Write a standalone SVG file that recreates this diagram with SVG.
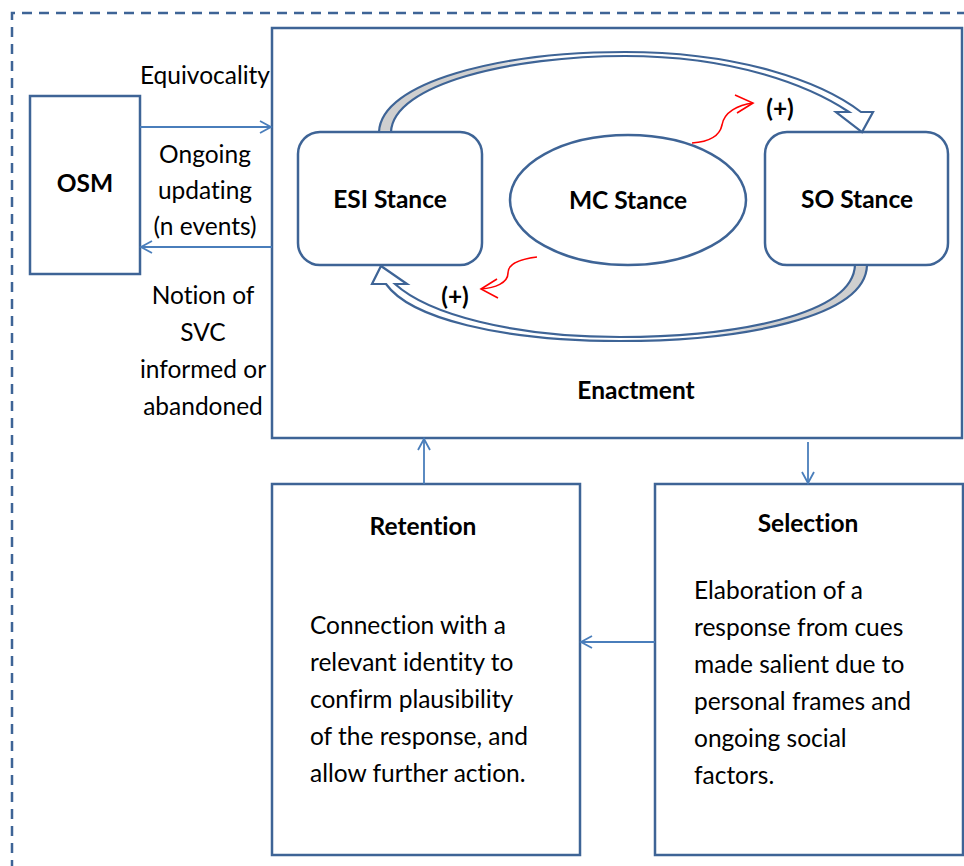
<svg xmlns="http://www.w3.org/2000/svg" width="964" height="866" viewBox="0 0 964 866">
  <style>
    .box { fill: #ffffff; stroke: #3e6496; stroke-width: 2.5; }
    .frame { fill: none; stroke: #3e6496; stroke-width: 2.5; stroke-dasharray: 10 7; }
    .conn { fill: none; stroke: #4a7ebb; stroke-width: 1.8; }
    .band { stroke: #3e6496; stroke-width: 2.2; stroke-linejoin: miter; }
    .red { fill: none; stroke: #ff0000; stroke-width: 1.6; }
    .t { font-family: Lato, "Open Sans", sans-serif; font-size: 24.5px; fill: #000000; font-variant-ligatures: none; }
    .b { font-family: Lato, "Open Sans", sans-serif; font-size: 24.5px; font-weight: bold; fill: #000000; font-variant-ligatures: none; }
    .mid { text-anchor: middle; }
  </style>
  <defs>
    <marker id="open" markerWidth="14" markerHeight="14" refX="12" refY="7" orient="auto" markerUnits="userSpaceOnUse">
      <path d="M1,1 L12,7 L1,13" fill="none" stroke="#4a7ebb" stroke-width="1.8"/>
    </marker>
    <linearGradient id="shadeL" x1="0" y1="0" x2="1" y2="0">
      <stop offset="0" stop-color="#cfcfcf"/>
      <stop offset="0.22" stop-color="#cfcfcf"/>
      <stop offset="0.34" stop-color="#ffffff"/>
      <stop offset="1" stop-color="#ffffff"/>
    </linearGradient>
    <linearGradient id="shadeR" x1="1" y1="0" x2="0" y2="0">
      <stop offset="0" stop-color="#cfcfcf"/>
      <stop offset="0.22" stop-color="#cfcfcf"/>
      <stop offset="0.34" stop-color="#ffffff"/>
      <stop offset="1" stop-color="#ffffff"/>
    </linearGradient>
  </defs>

  <rect width="964" height="866" fill="#ffffff"/>

  <!-- outer dashed frame -->
  <path class="frame" d="M12,870 L12,13 L970,13"/>

  <!-- enactment container -->
  <g id="enactment">
    <rect class="box" x="272" y="28" width="690" height="410"/>
    <text class="b mid" x="636" y="399">Enactment</text>
  </g>

  <g id="osm">
    <rect class="box" x="30" y="96" width="110" height="178"/>
    <text class="b mid" x="85" y="192">OSM</text>
  </g>

  <g id="esi-stance">
    <rect class="box" x="298" y="132" width="184" height="133" rx="22"/>
    <text class="b mid" x="390" y="208">ESI Stance</text>
  </g>

  <g id="mc-stance">
    <ellipse class="box" cx="628" cy="200" rx="118" ry="65"/>
    <text class="b mid" x="628" y="209">MC Stance</text>
  </g>

  <g id="so-stance">
    <rect class="box" x="765" y="132" width="183" height="133" rx="22"/>
    <text class="b mid" x="857" y="208">SO Stance</text>
  </g>

  <g id="retention">
    <rect class="box" x="272" y="484" width="308" height="371"/>
    <text class="b mid" x="423" y="535">Retention</text>
    <text class="t" x="310" y="634">Connection with a</text>
    <text class="t" x="310" y="671">relevant identity to</text>
    <text class="t" x="310" y="708">confirm plausibility</text>
    <text class="t" x="310" y="745">of the response, and</text>
    <text class="t" x="310" y="782">allow further action.</text>
  </g>

  <g id="selection">
    <rect class="box" x="655" y="484" width="308" height="371"/>
    <text class="b mid" x="808" y="532">Selection</text>
    <text class="t" x="694" y="599">Elaboration of a</text>
    <text class="t" x="694" y="636">response from cues</text>
    <text class="t" x="694" y="673">made salient due to</text>
    <text class="t" x="694" y="710">personal frames and</text>
    <text class="t" x="694" y="747">ongoing social</text>
    <text class="t" x="694" y="784">factors.</text>
  </g>

  <g id="connectors">
    <!-- OSM <-> enactment -->
    <line class="conn" x1="140" y1="127" x2="271" y2="127" marker-end="url(#open)"/>
    <line class="conn" x1="272" y1="247" x2="141" y2="247" marker-end="url(#open)"/>
    <!-- enactment <-> retention / selection -->
    <line class="conn" x1="424" y1="484" x2="424" y2="439" marker-end="url(#open)"/>
    <line class="conn" x1="808" y1="442" x2="808" y2="483" marker-end="url(#open)"/>
    <line class="conn" x1="655" y1="642" x2="581" y2="642" marker-end="url(#open)"/>

    <!-- curved block arrows between stances -->
    <path class="band" fill="url(#shadeL)" d="M379,132 C381,82 500,52 625,52 C740,52 822,82 861,112 L873,112 L862,132 L836,112 L849,112 C810,86 735,56 625,56 C512,56 393,84 391,132 Z"/>
    <path class="band" fill="url(#shadeR)" d="M867,265 C866,318 740,341 620,341 C500,341 410,318 386,284 L372,284 L381,266 L407,284 L395,284 C428,314 512,337 620,337 C735,337 853,315 855,265 Z"/>

    <!-- red influence arrows -->
    <path class="red" d="M692,143 C710,142 720,135 722,125 C724,112 738,105 753,103"/>
    <path class="red" d="M735,95 L753,103 L737,113"/>
    <path class="red" d="M537,257 C520,259 508,264 508,273 C508,283 495,288 481,289"/>
    <path class="red" d="M497,279 L481,289 L498,298"/>
  </g>

  <!-- connector labels -->
  <g id="labels">
    <text class="t mid" x="205" y="84">Equivocality</text>
    <text class="t mid" x="205" y="163">Ongoing</text>
    <text class="t mid" x="205" y="199">updating</text>
    <text class="t mid" x="205" y="235">(n events)</text>
    <text class="t mid" x="203" y="304">Notion of</text>
    <text class="t mid" x="203" y="341">SVC</text>
    <text class="t mid" x="203" y="378">informed or</text>
    <text class="t mid" x="203" y="415">abandoned</text>
    <text class="b mid" x="780" y="117">(+)</text>
    <text class="b mid" x="455" y="305">(+)</text>
  </g>
</svg>
